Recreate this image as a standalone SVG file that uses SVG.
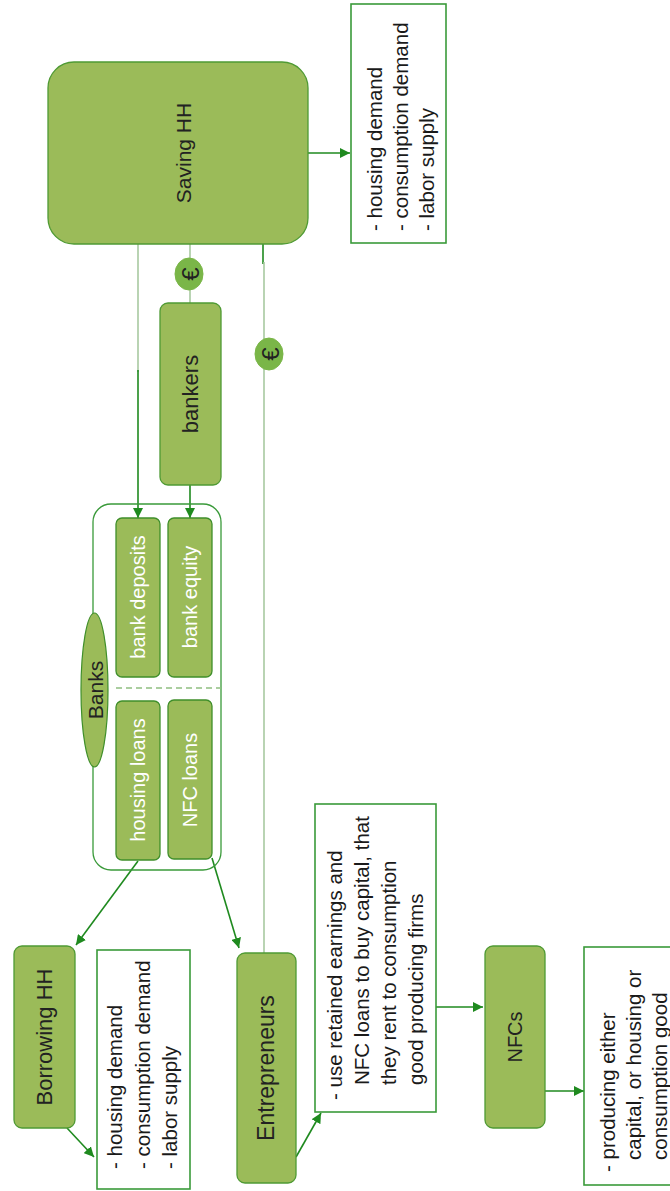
<svg xmlns="http://www.w3.org/2000/svg" width="670" height="1191" viewBox="0 0 670 1191">
<defs>
<marker id="ah" viewBox="0 0 10 10" refX="10" refY="5" markerWidth="10" markerHeight="10" markerUnits="userSpaceOnUse" orient="auto">
<path d="M0,0 L10,5 L0,10 z" fill="#1f8a1f"/>
</marker>
<style>
.node{fill:#9bbb59;stroke:#4f9a34;stroke-width:1.3}
.inner{fill:#9bbb59;stroke:#3f8f2a;stroke-width:1.3}
.tbox{fill:#ffffff;stroke:#3a9a3a;stroke-width:1.6}
.euro{fill:#7ab648;stroke:#7ab648}
.lbl{font-family:"Liberation Sans",Arial,sans-serif;fill:#222222;text-anchor:middle;dominant-baseline:central}
.wl{font-family:"Liberation Sans",Arial,sans-serif;fill:#ffffff;text-anchor:middle;dominant-baseline:central;font-size:20px}
.lst{font-family:"Liberation Sans",Arial,sans-serif;fill:#1a1a1a;dominant-baseline:central;font-size:20.5px}
.arr{stroke:#1f8a1f;stroke-width:1.6;fill:none}
.pale{stroke:#a8c9a0;stroke-width:1.6;fill:none}
</style>
</defs>

<g id="connectors">
  <line class="pale" x1="138" y1="244" x2="138" y2="372"/>
  <line class="arr" x1="138" y1="370" x2="138" y2="518" marker-end="url(#ah)"/>
  <line class="pale" x1="190" y1="244" x2="190" y2="303"/>
  <line class="arr" x1="190" y1="485" x2="190" y2="518" marker-end="url(#ah)"/>
  <line class="arr" x1="263" y1="244" x2="263" y2="264"/>
  <line class="pale" x1="264" y1="262" x2="264" y2="953"/>
  <line class="arr" x1="308" y1="153" x2="350" y2="153" marker-end="url(#ah)"/>
  <line class="arr" x1="138" y1="861" x2="76" y2="945" marker-end="url(#ah)"/>
  <line class="arr" x1="212" y1="858" x2="239" y2="948" marker-end="url(#ah)"/>
  <line class="arr" x1="67" y1="1128" x2="94" y2="1157" marker-end="url(#ah)"/>
  <line class="arr" x1="296" y1="1157" x2="321" y2="1113" marker-end="url(#ah)"/>
  <line class="arr" x1="436" y1="1007" x2="483" y2="1007" marker-end="url(#ah)"/>
  <line class="arr" x1="545" y1="1091" x2="584" y2="1091" marker-end="url(#ah)"/>
</g>

<g id="saving-hh">
  <rect class="node" x="48" y="62" width="260" height="182" rx="26"/>
  <text class="lbl" font-size="21" transform="translate(183,153) rotate(-90)">Saving HH</text>
</g>

<g id="saving-hh-list">
  <rect class="tbox" x="351" y="4" width="95" height="239"/>
  <text class="lst" transform="translate(374,231) rotate(-90)">- housing demand</text>
  <text class="lst" transform="translate(400,231) rotate(-90)">- consumption demand</text>
  <text class="lst" transform="translate(426,231) rotate(-90)">- labor supply</text>
</g>

<g id="euro-1">
  <ellipse class="euro" cx="189" cy="274" rx="14" ry="16"/>
  <text class="lbl" font-size="24" transform="translate(190,274) rotate(-90)">€</text>
</g>

<g id="euro-2">
  <ellipse class="euro" cx="269" cy="354" rx="14" ry="16"/>
  <text class="lbl" font-size="24" transform="translate(270,354) rotate(-90)">€</text>
</g>

<g id="bankers">
  <rect class="node" x="160" y="303" width="61" height="182" rx="8"/>
  <text class="lbl" font-size="22" transform="translate(190,394) rotate(-90)">bankers</text>
</g>

<g id="banks">
  <rect x="93" y="504" width="128" height="366" rx="18" fill="none" stroke="#3a9a3a" stroke-width="1.3"/>
  <line x1="116" y1="688" x2="221" y2="688" stroke="#8fbf80" stroke-width="1.6" stroke-dasharray="6,4"/>
  <ellipse cx="94.5" cy="690" rx="13.5" ry="77" fill="#9bbb59" stroke="#3f8f2a" stroke-width="1.2"/>
  <text class="lbl" font-size="21" transform="translate(95,690) rotate(-90)">Banks</text>
</g>

<g id="bank-deposits">
  <rect class="inner" x="116" y="518" width="44" height="159" rx="6"/>
  <text class="wl" transform="translate(138,597) rotate(-90)">bank deposits</text>
</g>

<g id="bank-equity">
  <rect class="inner" x="168" y="518" width="44" height="159" rx="6"/>
  <text class="wl" transform="translate(190,597) rotate(-90)">bank equity</text>
</g>

<g id="housing-loans">
  <rect class="inner" x="116" y="701" width="44" height="159" rx="6"/>
  <text class="wl" transform="translate(138,780) rotate(-90)">housing loans</text>
</g>

<g id="nfc-loans">
  <rect class="inner" x="168" y="700" width="44" height="159" rx="6"/>
  <text class="wl" transform="translate(190,780) rotate(-90)">NFC loans</text>
</g>

<g id="borrowing-hh">
  <rect class="node" x="14" y="946" width="61" height="182" rx="8"/>
  <text class="lbl" font-size="22" transform="translate(44,1037) rotate(-90)">Borrowing HH</text>
</g>

<g id="borrowing-hh-list">
  <rect class="tbox" x="97" y="950" width="93" height="239"/>
  <text class="lst" transform="translate(114,1169) rotate(-90)">- housing demand</text>
  <text class="lst" transform="translate(142,1169) rotate(-90)">- consumption demand</text>
  <text class="lst" transform="translate(169,1169) rotate(-90)">- labor supply</text>
</g>

<g id="entrepreneurs">
  <rect class="node" x="237" y="953" width="59" height="230" rx="8"/>
  <text class="lbl" font-size="23" transform="translate(266,1068) rotate(-90)">Entrepreneurs</text>
</g>

<g id="entrepreneurs-list">
  <rect class="tbox" x="315" y="804" width="121" height="308"/>
  <text class="lst" transform="translate(334,1100) rotate(-90)">- use retained earnings and</text>
  <text class="lst" transform="translate(361,1085) rotate(-90)">NFC loans to buy capital, that</text>
  <text class="lst" transform="translate(388,1085) rotate(-90)">they rent to consumption</text>
  <text class="lst" transform="translate(415,1085) rotate(-90)">good producing firms</text>
</g>

<g id="nfcs">
  <rect class="node" x="485" y="946" width="60" height="182" rx="8"/>
  <text class="lbl" font-size="20" transform="translate(515,1037) rotate(-90)">NFCs</text>
</g>

<g id="nfcs-list">
  <rect class="tbox" x="584" y="947" width="100" height="238"/>
  <text class="lst" transform="translate(607,1172) rotate(-90)">- producing either</text>
  <text class="lst" transform="translate(633,1160) rotate(-90)">capital, or housing or</text>
  <text class="lst" transform="translate(659,1160) rotate(-90)">consumption good</text>
</g>
</svg>
